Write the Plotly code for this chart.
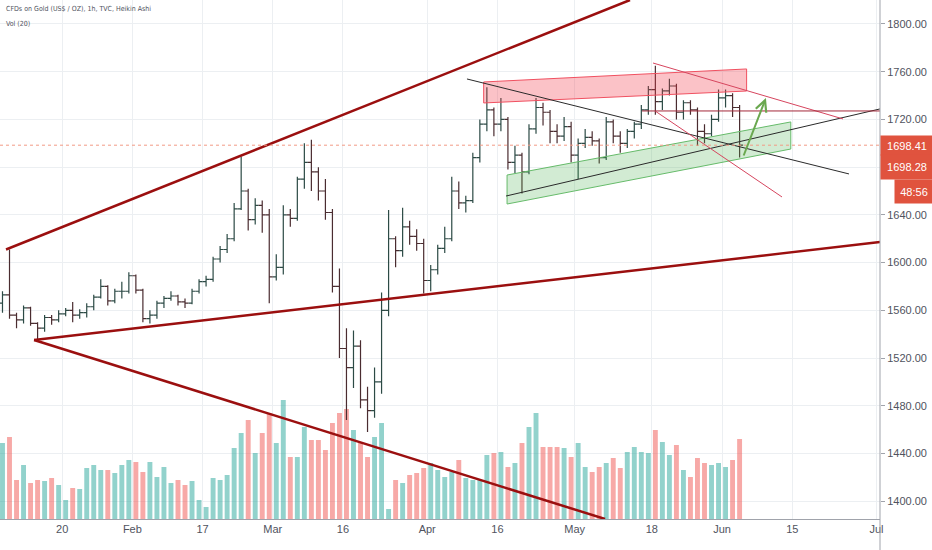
import plotly.graph_objects as go
import pandas as pd

# hourly Heikin Ashi bars, summarised per session
days = pd.bdate_range("2020-01-07", "2020-06-03")
days = days[days != pd.Timestamp("2020-04-10")]  # good friday, no session
bar_time = days + pd.Timedelta(hours=12)

opens = [1566, 1573, 1556, 1552, 1562, 1549, 1545, 1554, 1552, 1557,
         1560, 1556, 1558, 1563, 1571, 1580, 1568, 1576, 1576,
         1589, 1577, 1553, 1556, 1566, 1570, 1572, 1567, 1566, 1576,
         1584, 1586, 1603, 1611, 1620, 1645, 1660, 1636, 1648, 1640,
         1588, 1596, 1640, 1637, 1670, 1684, 1676, 1660, 1642, 1580,
         1528, 1512, 1530, 1485, 1476, 1500, 1560, 1620, 1610, 1630,
         1622, 1616,
         1585, 1594, 1612, 1620, 1660, 1650, 1652, 1688, 1716, 1728,
         1716, 1720, 1684, 1690, 1676, 1712, 1730, 1726, 1710, 1706, 1714,
         1690, 1700, 1705, 1702, 1688, 1718, 1706, 1700, 1710, 1716,
         1728, 1745, 1735, 1744, 1748, 1726, 1734, 1728, 1710, 1708,
         1720, 1738, 1740, 1730]
highs = [1576, 1611, 1558, 1564, 1563, 1550, 1556, 1556, 1560, 1562,
         1567, 1561, 1566, 1573, 1586, 1581, 1578, 1584, 1592,
         1590, 1578, 1560, 1568, 1572, 1576, 1573, 1570, 1578, 1586,
         1589, 1605, 1614, 1624, 1650, 1689, 1662, 1654, 1652, 1645,
         1607, 1648, 1645, 1672, 1700, 1703, 1680, 1670, 1645, 1595,
         1545, 1543, 1535, 1496, 1512, 1575, 1644, 1622, 1646, 1635,
         1628, 1620,
         1598, 1615, 1630, 1672, 1668, 1656, 1692, 1720, 1747, 1730,
         1738, 1722, 1698, 1692, 1716, 1738, 1734, 1728, 1716, 1722, 1718,
         1704, 1712, 1710, 1704, 1722, 1720, 1710, 1712, 1718, 1732,
         1748, 1765, 1746, 1754, 1750, 1736, 1736, 1730, 1716, 1724,
         1745, 1745, 1742, 1732]
lows = [1558, 1553, 1545, 1549, 1547, 1536, 1542, 1548, 1550, 1555,
        1550, 1553, 1554, 1560, 1570, 1564, 1566, 1570, 1574,
        1574, 1550, 1549, 1553, 1562, 1568, 1564, 1562, 1565, 1574,
        1580, 1584, 1600, 1608, 1618, 1644, 1627, 1632, 1625, 1566,
        1585, 1590, 1630, 1635, 1662, 1660, 1652, 1636, 1575, 1520,
        1468, 1495, 1478, 1458, 1470, 1490, 1555, 1596, 1605, 1615,
        1610, 1574,
        1576, 1590, 1608, 1618, 1645, 1642, 1650, 1684, 1710, 1706,
        1710, 1678, 1675, 1658, 1674, 1708, 1715, 1700, 1700, 1702, 1684,
        1670, 1696, 1698, 1683, 1686, 1700, 1692, 1696, 1704, 1712,
        1724, 1724, 1728, 1740, 1720, 1720, 1724, 1698, 1700, 1706,
        1718, 1730, 1722, 1688]
closes = [1573, 1556, 1552, 1562, 1549, 1545, 1554, 1552, 1557, 1560,
          1556, 1558, 1563, 1571, 1580, 1568, 1576, 1576, 1589,
          1577, 1553, 1556, 1566, 1570, 1572, 1567, 1566, 1576, 1584,
          1586, 1603, 1611, 1620, 1645, 1660, 1636, 1648, 1640, 1588,
          1596, 1640, 1637, 1670, 1684, 1676, 1660, 1642, 1580, 1528,
          1512, 1530, 1485, 1476, 1500, 1560, 1620, 1610, 1630, 1622,
          1616, 1585,
          1594, 1612, 1620, 1660, 1650, 1652, 1688, 1716, 1728, 1716,
          1720, 1684, 1690, 1676, 1712, 1730, 1726, 1710, 1706, 1714, 1690,
          1700, 1705, 1702, 1688, 1718, 1706, 1700, 1710, 1716, 1728,
          1745, 1735, 1744, 1748, 1726, 1734, 1728, 1710, 1708, 1720,
          1738, 1740, 1730, 1698.41]
volume = [76, 82, 39, 54, 36, 39, 38, 41, 34, 19,
          31, 30, 51, 54, 49, 49, 46, 54, 59,
          57, 47, 57, 42, 52, 36, 39, 34, 38, 19,
          12, 41, 39, 44, 71, 86, 99, 66, 86, 106,
          76, 119, 62, 62, 92, 79, 79, 69, 96, 106,
          110, 89, 76, 62, 82, 96, 10, 39, 36, 44,
          46, 51,
          56, 49, 42, 47, 59, 41, 39, 39, 64, 66,
          67, 52, 56, 76, 92, 106, 72, 72, 72, 71, 62,
          76, 52, 47, 52, 56, 61, 51, 67, 72, 67,
          66, 89, 77, 64, 74, 49, 42, 61, 56, 54,
          56, 52, 59, 80]

last_price = 1698.41
prev_close = 1698.28

tick_dates = ["2020-01-20", "2020-02-03", "2020-02-17", "2020-03-02", "2020-03-16", "2020-04-01",
              "2020-04-16", "2020-05-01", "2020-05-18", "2020-06-01", "2020-06-15", "2020-07-01"]
tick_text = ["20", "Feb", "17", "Mar", "16", "Apr", "16", "May", "18", "Jun", "15", "Jul"]
price_ticks = [1400, 1440, 1480, 1520, 1560, 1600, 1640, 1680, 1720, 1760, 1800]

# drawings (date, price anchors)
upper_wedge = (["2020-01-08 00:00", "2020-05-12 21:20"], [1611.0, 1820.1])
rising_support = (["2020-01-14 00:00", "2020-07-01 12:00"], [1535.1, 1617.3])
lower_wedge = (["2020-01-14 00:00", "2020-05-07 08:00"], [1535.1, 1385.1])
black_down = (["2020-04-08 16:00", "2020-06-25 02:00"], [1753.9, 1674.3])
black_up = (["2020-04-17 05:30", "2020-07-01 12:00"], [1655.8, 1728.8])
pink_down = (["2020-05-18 04:00", "2020-06-24 05:30"], [1767.3, 1720.4])
pink_steep = (["2020-05-18 11:00", "2020-06-11 13:00"], [1727.1, 1655.0])
flat_line = (["2020-05-14 14:30", "2020-07-01 12:00"], [1727.1, 1727.1])
red_zone = (["2020-04-14 01:00", "2020-06-04 12:00", "2020-06-04 12:00", "2020-04-14 01:00", "2020-04-14 01:00"],
            [1751.4, 1762.3, 1743.8, 1733.8, 1751.4])
green_zone = (["2020-04-17 09:00", "2020-06-12 19:00", "2020-06-12 19:00", "2020-04-17 09:00", "2020-04-17 09:00"],
              [1673.4, 1717.9, 1695.2, 1649.1, 1673.4])
arrow_tail = ("2020-06-04 00:00", 1688.5)
arrow_tip = ("2020-06-09 06:00", 1738.0)

fig = go.Figure()

vol_colors = ["rgba(38,166,154,0.5)" if c >= o else "rgba(239,83,80,0.5)" for o, c in zip(opens, closes)]
fig.add_trace(go.Bar(x=bar_time, y=volume, marker=dict(color=vol_colors, line=dict(width=0)),
                     width=0.7 * 86400000, yaxis="y", hoverinfo="skip"))

fig.add_trace(go.Ohlc(
    x=bar_time, open=opens, high=highs, low=lows, close=closes,
    yaxis="y2", tickwidth=0.5,
    increasing=dict(line=dict(color="#2c4a45", width=1.2)),
    decreasing=dict(line=dict(color="#4a2c30", width=1.2)),
    hoverinfo="skip"))

def add_line(pts, color, width):
    fig.add_trace(go.Scatter(x=pts[0], y=pts[1], yaxis="y2", mode="lines",
                             line=dict(color=color, width=width), hoverinfo="skip"))

fig.add_trace(go.Scatter(x=red_zone[0], y=red_zone[1], yaxis="y2", mode="lines", fill="toself",
                         fillcolor="rgba(242,54,69,0.3)", line=dict(color="#f05060", width=1),
                         hoverinfo="skip"))
fig.add_trace(go.Scatter(x=green_zone[0], y=green_zone[1], yaxis="y2", mode="lines", fill="toself",
                         fillcolor="rgba(76,175,80,0.25)", line=dict(color="#66bb6a", width=1),
                         hoverinfo="skip"))

add_line(upper_wedge, "#9b0f0f", 2.5)
add_line(rising_support, "#9b0f0f", 2.5)
add_line(lower_wedge, "#9b0f0f", 2.5)
add_line(black_down, "#2a2a2a", 1)
add_line(black_up, "#2a2a2a", 1)
add_line(pink_down, "#d6455e", 1)
add_line(pink_steep, "#d6455e", 1)
add_line(flat_line, "#a3283a", 1)

fig.add_shape(type="line", xref="paper", x0=0, x1=1, yref="y2", y0=last_price, y1=last_price,
              line=dict(color="#f29a86", width=1, dash="dot"))
fig.add_shape(type="line", xref="paper", x0=1, x1=1, yref="paper", y0=-0.06, y1=1,
              line=dict(color="#a0a3ab", width=1))

fig.add_annotation(x=arrow_tip[0], y=arrow_tip[1], ax=arrow_tail[0], ay=arrow_tail[1],
                   xref="x", yref="y2", axref="x", ayref="y2", text="", showarrow=True,
                   arrowhead=5, arrowsize=1.1, arrowwidth=2, arrowcolor="#6aa84f")

label_font = dict(family="Liberation Sans, Arial, sans-serif", size=11, color="white")
fig.add_annotation(xref="paper", x=1, xanchor="left", yref="paper", y=(550 - 31 - 135) / 519,
                   yanchor="top", text=f"{last_price:.2f}", showarrow=False, bgcolor="#e0533e",
                   font=label_font, width=48, height=15, borderpad=2, align="center")
fig.add_annotation(xref="paper", x=1, xanchor="left", yref="paper", y=(550 - 31 - 154) / 519,
                   yanchor="top", text=f"{prev_close:.2f}", showarrow=False, bgcolor="#e0533e",
                   font=label_font, width=48, height=20, borderpad=2, align="center")
fig.add_annotation(xref="paper", x=894 / 880, xanchor="left", yref="paper", y=(550 - 31 - 179) / 519,
                   yanchor="top", text="48:56", showarrow=False, bgcolor="#e0533e",
                   font=label_font, width=34, height=19, borderpad=2, align="center")

small = dict(family="Liberation Sans Narrow, DejaVu Sans Condensed, sans-serif", size=7, color="#50535e")
fig.add_annotation(xref="paper", yref="paper", x=4 / 880, y=(519 - 9) / 519, xanchor="left", yanchor="middle",
                   text="CFDs on Gold (US$ / OZ), 1h, TVC, Heikin Ashi", showarrow=False, font=small)
fig.add_annotation(xref="paper", yref="paper", x=4 / 880, y=(519 - 24) / 519, xanchor="left", yanchor="middle",
                   text="Vol (20)", showarrow=False, font=small)

axis_font = dict(family="Liberation Sans, Arial, sans-serif", size=11, color="#50535e")
fig.update_layout(
    width=932, height=550,
    margin=dict(l=0, r=52, t=0, b=31),
    paper_bgcolor="white", plot_bgcolor="white",
    showlegend=False, hovermode=False,
    xaxis=dict(
        type="date", range=["2020-01-07 03:30", "2020-07-01 12:00"],
        rangebreaks=[dict(bounds=["sat", "mon"]), dict(values=["2020-04-10"])],
        rangeslider=dict(visible=False),
        tickvals=tick_dates, ticktext=tick_text, tickfont=axis_font,
        showgrid=True, gridcolor="#eceff2", gridwidth=1,
        showline=True, linecolor="#a0a3ab", ticks="", zeroline=False,
    ),
    yaxis=dict(range=[0, 519], visible=False, fixedrange=True),
    yaxis2=dict(
        overlaying="y", side="right", range=[1385.1, 1820.1],
        tickvals=price_ticks, tickformat=".2f", tickfont=axis_font,
        showgrid=True, gridcolor="#eceff2", gridwidth=1,
        ticks="outside", ticklen=4, tickcolor="#a0a3ab",
        showline=False, zeroline=False,
    ),
)

# page body has a default margin; drop it so the chart sits at the window corner
fig.write_html("out.html", config={"displayModeBar": False},
               post_script="document.body.style.margin='0';")
